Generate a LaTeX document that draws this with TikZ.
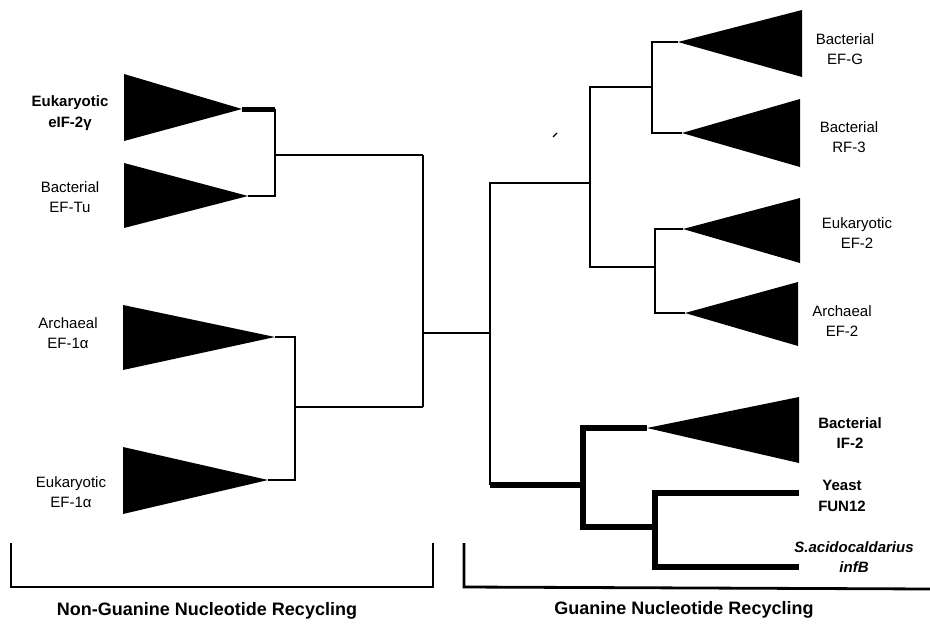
\documentclass[tikz,border=0pt]{standalone}
\usepackage{fontspec}
\setmainfont{Liberation Sans}
\begin{document}
\begin{tikzpicture}[x=1pt,y=-1pt,
  thn/.style={line width=2.8pt, line join=miter},
  thk/.style={line width=6.5pt, line join=miter},
  mid/.style={line width=5pt},
  tri/.style={fill=black},
  lab/.style={align=center, inner sep=0pt, font=\fontsize{15}{20.5}\selectfont},
  blab/.style={lab, font=\fontsize{15}{20.5}\selectfont\bfseries},
  captext/.style={inner sep=0pt, font=\fontsize{18}{22}\selectfont\bfseries}]
\useasboundingbox (0,0) rectangle (930,624);

% ---------- left clade triangles ----------
\fill[tri] (124,74)  -- (124,141) -- (242,109) coordinate (tA) -- cycle;
\fill[tri] (124,163) -- (124,228) -- (248,196) coordinate (tB) -- cycle;
\fill[tri] (123,305) -- (123,370) -- (275,337) coordinate (tC) -- cycle;
\fill[tri] (123,447) -- (123,514) -- (268,480) coordinate (tD) -- cycle;

% junctions
\coordinate (jAB) at (275,155);
\coordinate (jCD) at (295,407);
\coordinate (jL)  at (423,333);
\coordinate (jR)  at (490,333);

\draw[mid] (tA) -- (tA -| jAB);
\draw[thn] (tA -| jAB) -- (tB -| jAB) -- (tB);
\draw[thn] (jAB) -- (jAB -| jL);
\draw[thn] (tC) -- (tC -| jCD) -- (tD -| jCD) -- (tD);
\draw[thn] (jCD) -- (jCD -| jL);
\draw[thn] (jAB -| jL) -- (jCD -| jL);
\draw[thn] (jL) -- (jR);

% ---------- right clade ----------
\fill[tri] (802,10)  -- (802,77)  -- (678,42)  coordinate (tE) -- cycle;
\fill[tri] (800,99)  -- (800,167) -- (682,133) coordinate (tF) -- cycle;
\fill[tri] (800,198) -- (800,263) -- (683,229) coordinate (tG) -- cycle;
\fill[tri] (798,282) -- (798,346) -- (685,313) coordinate (tH) -- cycle;
\fill[tri] (799,397) -- (799,463) -- (647,428) coordinate (tI) -- cycle;

\coordinate (jEF) at (652,87);
\coordinate (jGH) at (655,267);
\coordinate (jEG) at (590,183);
\coordinate (jIF) at (583,485);
\coordinate (jYS) at (655,527);
\coordinate (eY) at (799,493);
\coordinate (eS) at (799,567);

\draw[thn] (tE) -- (tE -| jEF) -- (tF -| jEF) -- (tF);
\draw[thn] (tG) -- (tG -| jGH) -- (tH -| jGH) -- (tH);
\draw[thn] (jEF) -- (jEF -| jEG) -- (jGH -| jEG) -- (jGH);
\draw[thn] (jEG) -- (jEG -| jR) -- (jIF -| jR);
\draw[thk] (jIF -| jR) -- (jIF);
\draw[thk] (tI) -- (tI -| jIF) -- (jYS -| jIF) -- (jYS);
\draw[thk] (eY) -- (eY -| jYS) -- (eS -| jYS) -- (eS);

% stray mark
\draw[line width=1.4pt] (553,137) -- (557,133);

% ---------- labels ----------
\node[blab] (lA) at (70,113) {Eukaryotic\\eIF-2γ};
\node[lab]  (lB) at (70,197) {Bacterial\\EF-Tu};
\node[lab]  (lC) at (68,333) {Archaeal\\EF-1α};
\node[lab]  (lD) at (71,492) {Eukaryotic\\EF-1α};

\node[lab]  (lE) at (845,49)  {Bacterial\\EF-G};
\node[lab]  (lF) at (849,137) {Bacterial\\RF-3};
\node[lab]  (lG) at (857,233) {Eukaryotic\\EF-2};
\node[lab]  (lH) at (842,321) {Archaeal\\EF-2};
\node[blab] (lI) at (850,433) {Bacterial\\IF-2};
\node[blab] (lY) at (842,496) {Yeast\\FUN12};
\node[blab, font=\fontsize{15}{20.5}\selectfont\bfseries\itshape] (lS) at (854,557) {S.acidocaldarius\\infB};

% ---------- brackets ----------
\draw[thn] (11,543) -- (11,587) -- (433,587) -- (433,543);
\draw[thn] (464,543) -- (464,587) -- (930,589);

\node[captext] (cL) at (207,611) {Non-Guanine Nucleotide Recycling};
\node[captext] (cR) at (684,610) {Guanine Nucleotide Recycling};
\end{tikzpicture}
\end{document}
